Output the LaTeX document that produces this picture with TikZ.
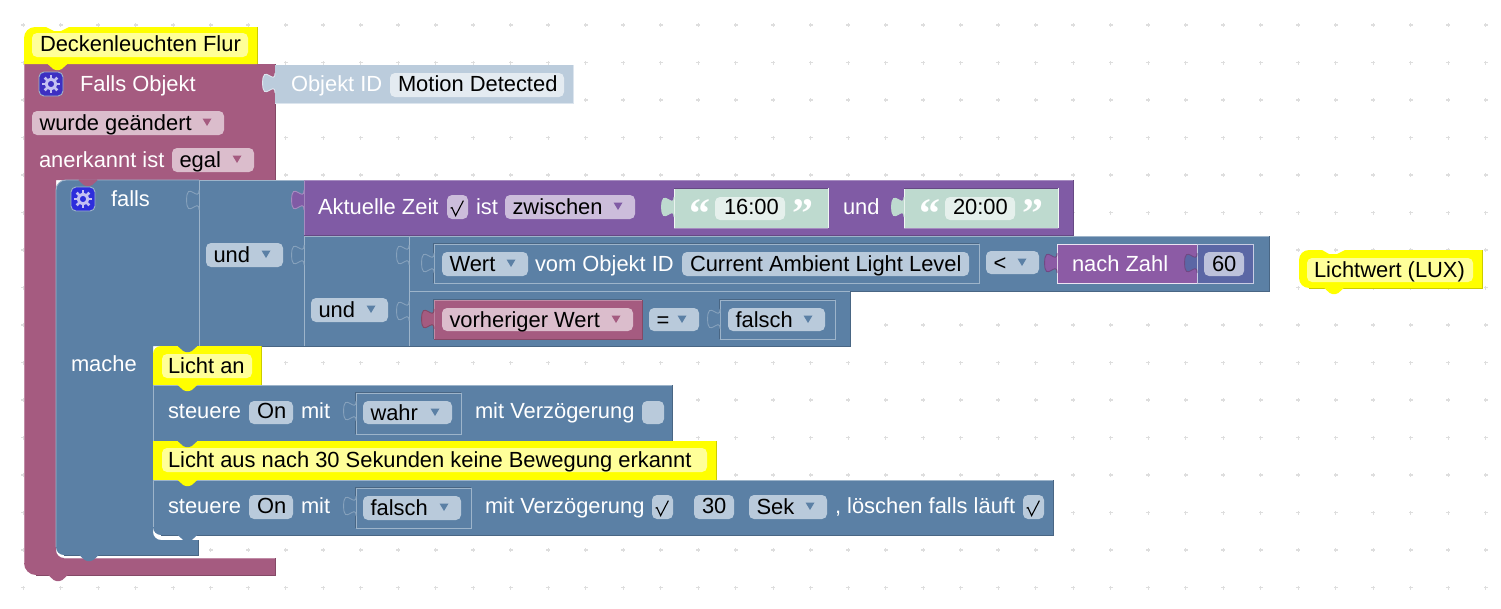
\documentclass[tikz,border=0pt]{standalone}
\usepackage{fontspec}
\setmainfont{Liberation Sans}
\newfontfamily\quotefont{Liberation Serif}[BoldFont={Liberation Serif Bold}]
\definecolor{pk}{HTML}{A55B80}\definecolor{pkl}{HTML}{C08CA6}\definecolor{pkd}{HTML}{844966}\definecolor{pkf}{HTML}{DBBDCC}
\definecolor{bl}{HTML}{5B80A5}\definecolor{bll}{HTML}{9DB4CA}\definecolor{blt}{HTML}{86A1BC}\definecolor{bld}{HTML}{496684}\definecolor{blf}{HTML}{B9CADB}
\definecolor{pu}{HTML}{805BA5}\definecolor{pul}{HTML}{A68CC0}\definecolor{pud}{HTML}{664984}\definecolor{puf}{HTML}{CCBDDB}
\definecolor{nz}{HTML}{8C5BA5}\definecolor{nzl}{HTML}{EDE4F2}\definecolor{nzd}{HTML}{704984}
\definecolor{idb}{HTML}{BBCCDC}\definecolor{idf}{HTML}{E4EBF1}\definecolor{idl}{HTML}{DCE5EE}
\definecolor{gr}{HTML}{BEDACF}\definecolor{grf}{HTML}{E5F0EC}\definecolor{grl}{HTML}{F0F7F4}
\definecolor{nm}{HTML}{5B67A5}\definecolor{nmf}{HTML}{BDC2DB}\definecolor{nml}{HTML}{C9CDE3}
\definecolor{ye}{HTML}{FFFF00}\definecolor{yed}{HTML}{CCCC00}\definecolor{yef}{HTML}{FFFF99}
\definecolor{grd}{HTML}{DEDEDE}\definecolor{giconA}{HTML}{3D2FC2}\definecolor{giconB}{HTML}{2D2DDC}\definecolor{gearc}{HTML}{C4C0F2}
\newcount\nn
\tikzset{
 tx/.style={anchor=base west,inner sep=0pt,outer sep=0pt,font=\fontsize{21.9}{24}\selectfont},
 wt/.style={tx,text=white},
 bk/.style={tx,text=black},
 edge/.style={line width=.9pt}
}
\newcommand{\lab}[5][wt]{\global\advance\nn by 1 \node[#1] (t\the\nn) at (#2,#3) {#4#5};}
\newcommand{\blk}[7]{\fill[#5] (#1,#2) rectangle (#3,#4);
 \draw[edge,#6] (#1,#4)--(#1,#2)--(#3,#2);
 \draw[edge,#7] (#3,#2)--(#3,#4)--(#1,#4);}
\newcommand{\frm}[4]{\fill[bl] (#1,#2) rectangle (#3,#4);
 \draw[edge,bll] (#1,#2) rectangle (#3,#4);
 \draw[edge,bld] (#1-.9,#4)--(#1-.9,#2-.9)--(#3,#2-.9);}
\newcommand{\tabl}[4]{\begin{scope}[shift={(#1,#2)}]
 \fill[#3] (0,0) .. controls (0,13.3) and (-12.4,-10.6) .. (-12.4,10) .. controls (-12.4,30.6) and (0,6.6) .. (0,20) -- cycle;
 \draw[edge,#4] (0,0) .. controls (0,13.3) and (-12.4,-10.6) .. (-12.4,10) .. controls (-12.4,30.6) and (0,6.6) .. (0,20);
 \end{scope}}
\newcommand{\ntab}[3]{\begin{scope}[shift={(#1,#2)}]
 \fill[#3,rounded corners=1.5pt] (-10.5,-.6) -- (-3.2,6) -- (3.2,6) -- (10.5,-.6) -- cycle;
 \end{scope}}
\newcommand{\fld}[5]{\fill[#5,rounded corners=5pt] (#1,#2) rectangle (#3,#4);}
\newcommand{\ddn}[3]{\fill[#3] ({#1-4.5},{#2+7.5}) -- ({#1+4.5},{#2+7.5}) -- (#1,{#2+15}) -- cycle;}
\newcommand{\dd}[7]{\fld{#1}{#2}{#3}{#4}{#5}\ddn{#3-17}{#2}{#6}\lab[bk]{#1+7.5}{#2+19.2}{}{#7}}
\newcommand{\tf}[5]{\fld{#1}{#2}{#3}{#4}{#5}}
\newcommand{\gearicon}[3]{\draw[line width=.9pt,fill=#3,rounded corners=5pt,draw=bll] (#1,#2) rectangle ({#1+24},{#2+24});
 \begin{scope}[shift={(#1+12,#2+12)}]
 \draw[gearc,line width=3pt] (0,0) circle (4.8pt);
 \foreach \a in {0,45,...,315} {\draw[gearc,line width=2.6pt] (\a:6) -- (\a:9);}
 \end{scope}}
\newcommand{\chk}[2]{\draw[black,line width=1.1pt,line join=miter] ({#1+3.6},{#2+13.2}) -- ({#1+5},{#2+12.6}) -- ({#1+8.6},{#2+20.6}) -- ({#1+16.4},{#2+5.6});}
\newcommand{\qq}[3]{\lab[tx,text=white,font=\quotefont\bfseries\fontsize{42}{42}\selectfont]{#1}{#2}{}{#3}}
\begin{document}
\begin{tikzpicture}[x=1pt,y=-1pt]
\useasboundingbox (0,0) rectangle (1501,608);
\fill[white] (0,0) rectangle (1501,608);
% grid dots
\foreach \i in {0,...,39}{\foreach \j in {0,...,15}{
 \pgfmathsetmacro{\gx}{23.3+37.5*\i}\pgfmathsetmacro{\gy}{25+37.5*\j}
 \fill[grd] (\gx-2,\gy-.6) rectangle (\gx+2,\gy+.6);
 \fill[grd] (\gx-.6,\gy-2) rectangle (\gx+.6,\gy+2);
}}
% outer pink block
\fill[pk] (24,64) -- (275,64) -- (275,180) -- (56,180) -- (56,550) arc[start angle=180,end angle=90,radius=8] -- (64,558) -- (275,558) -- (275,575) -- (36,575) arc[start angle=90,end angle=180,radius=12] -- cycle;
\draw[edge,pkd] (275,64)--(275,180);
\draw[edge,pkl] (64,558)--(275,558);
\draw[edge,pkd] (275,558)--(275,575)--(36,575);
\draw[edge,pkl] (24,563)--(24,64);
\ntab{58}{575}{pk}
% hat
\fill[ye] (24,64) -- (24,38) arc[start angle=180,end angle=270,radius=11] -- (46,27) -- (54,31) -- (61,31) -- (69,27) -- (257,27) -- (257,64) -- cycle;
\draw[edge,yed] (257,27)--(257,64);
\ntab{57.5}{64}{ye}
\tf{32}{33}{248}{57}{yef}
\lab[bk]{40}{51.7}{}{Deckenleuchten Flur}
% object id
\fill[idb] (275,65) rectangle (573,103);
\draw[edge,idl] (275,103)--(573,103)--(573,65);
\tabl{275}{73}{idb}{idl}
\lab{291}{91}{}{Objekt ID}
\tf{390}{73}{564}{97}{idf}
\lab[bk]{398}{91}{}{Motion Detected}
% pink contents
\gearicon{39}{72}{giconA}
\lab{80}{91}{}{Falls Objekt}
\dd{32}{111}{224}{135}{pkf}{pk}{wurde geändert}
\lab{39}{167}{}{anerkannt ist}
\dd{172}{148}{254}{172}{pkf}{pk}{egal}
% falls block
\fill[bl] (66,180) -- (199,180) -- (199,346) -- (153,346) -- (153,532) arc[start angle=180,end angle=90,radius=8] -- (161,540) -- (198,540) -- (198,555) -- (64,555) arc[start angle=90,end angle=180,radius=8] -- (56,190) arc[start angle=180,end angle=270,radius=10] -- cycle;
\draw[edge,bll] (56,547) -- (56,190) arc[start angle=180,end angle=270,radius=10] -- (199,180);
\draw[edge,bld] (198,540)--(198,555)--(64,555);
\ntab{89}{555}{bl}
\ntab{88}{180}{pk}
\gearicon{71}{187}{giconB}
\lab{111}{206}{}{falls}
\lab{71}{371}{}{mache}
% und 1
\fill[bl] (199,180) rectangle (304,346);
\draw[edge,bll] (199,346)--(199,180)--(304,180);
\draw[edge,bld] (199,346)--(304,346);
\tabl{199}{190}{bl}{blt}
\dd{206}{243}{283}{267}{blf}{bl}{und}
% aktuelle zeit
\blk{304}{180}{1073}{235}{pu}{pul}{pud}
\tabl{304}{190}{pu}{pul}
\lab{318}{214}{}{Aktuelle Zeit}
\tf{447}{195}{468}{219}{puf}
\chk{447}{195}
\lab{476}{214}{}{ist}
\dd{505}{195}{635}{219}{puf}{pu}{zwischen}
\fill[gr] (674,188) rectangle (828,228);
\draw[edge,grl] (674,228)--(674,188);\draw[edge,pud] (674,188)--(828,188);\draw[edge,pul] (674,228)--(828,228);\draw[edge,grl] (828,188)--(828,228);
\tabl{674}{197}{gr}{gr}
\qq{689.5}{227}{“}
\tf{715}{197}{785}{220}{grf}
\lab[bk]{724}{214}{}{16:00}
\qq{792.5}{227}{”}
\lab{843}{214}{}{und}
\fill[gr] (904,188) rectangle (1058,228);
\draw[edge,grl] (904,228)--(904,188);\draw[edge,pud] (904,188)--(1058,188);\draw[edge,pul] (904,228)--(1058,228);\draw[edge,grl] (1058,188)--(1058,228);
\tabl{904}{197}{gr}{gr}
\qq{919.5}{227}{“}
\tf{945}{197}{1015}{220}{grf}
\lab[bk]{953}{214}{}{20:00}
\qq{1022.5}{227}{”}
% und 2
\fill[bl] (304,236) rectangle (409,346);
\draw[edge,bll] (304,346)--(304,236)--(409,236);
\draw[edge,bld] (304,346)--(409,346);
\tabl{304}{245}{bl}{blt}
\dd{311}{298}{388}{322}{blf}{bl}{und}
% compare 1
\blk{409}{236}{1269}{291}{bl}{bll}{bld}
\tabl{409}{245}{bl}{blt}
\frm{434}{244}{979}{283}
\tabl{434}{253}{bl}{blt}
\dd{442}{252}{528}{276}{blf}{bl}{Wert}
\lab{535}{271.5}{}{vom Objekt ID}
\tf{682}{252}{969}{276}{blf}
\lab[bk]{690}{271.5}{}{Current Ambient Light Level}
\dd{986}{251}{1039}{274}{blf}{bl}{<}
\blk{1057}{244}{1197}{283}{nz}{nzl}{nzl}
\tabl{1057}{253}{nz}{nzd}
\lab{1072}{271}{}{nach Zahl}
\blk{1197}{244}{1253}{283}{nm}{nml}{nml}
\tabl{1197}{253}{nm}{nzd}
\tf{1204}{252}{1244}{276}{nmf}
\lab[bk]{1212}{271.5}{}{60}
% compare 2
\blk{409}{291}{850}{346}{bl}{bll}{bld}
\tabl{409}{301}{bl}{blt}
\blk{434}{300}{642}{339}{pk}{pkl}{pkd}
\draw[edge,bld] (433,339)--(433,299)--(642,299);
\tabl{434}{309}{pk}{pkd}
\dd{442}{308}{633}{331}{pkf}{pk}{vorheriger Wert}
\dd{649}{308}{699}{331}{blf}{bl}{=}
\frm{720}{300}{835}{339}
\tabl{720}{309}{bl}{blt}
\dd{728}{308}{825}{331}{blf}{bl}{falsch}
% Lichtwert
\fill[ye] (1299,260) arc[start angle=180,end angle=270,radius=10] -- (1322,250) -- (1329,254) -- (1337,254) -- (1345,250) -- (1482,250) -- (1482,288) -- (1309,288) arc[start angle=90,end angle=180,radius=10] -- cycle;
\draw[edge,yed] (1482,250)--(1482,288)--(1309,288);
\ntab{1334}{288}{ye}
\tf{1307}{258}{1473}{282}{yef}
\lab[bk]{1314}{277}{}{Lichtwert (LUX)}
% statement stack
\fill[ye] (153,385) -- (153,354) arc[start angle=180,end angle=270,radius=8] -- (261,346) -- (261,385) -- cycle;
\draw[edge,yed] (261,346)--(261,385);
\ntab{187.5}{346}{bl}
\tf{162}{354}{252}{378}{yef}
\lab[bk]{168}{373}{}{Licht an}
\blk{153}{385}{672}{441}{bl}{bll}{bld}
\ntab{187.5}{385}{ye}
\lab{168}{418.5}{}{steuere}
\tf{249}{401}{293}{424}{blf}
\lab[bk]{257}{418.5}{}{On}
\lab{301}{418.5}{}{mit}
\frm{356}{393}{461}{434}
\tabl{356}{401}{bl}{blt}
\dd{363}{401}{452}{424}{blf}{bl}{wahr}
\lab{475}{418.5}{}{mit Verzögerung}
\tf{642}{401}{664}{424}{blf}
\fill[ye] (153,441) rectangle (716,480);
\draw[edge,yed] (716,441)--(716,480);
\ntab{187.5}{441}{bl}
\tf{162}{448}{707}{472}{yef}
\lab[bk]{168}{467.5}{}{Licht aus nach 30 Sekunden keine Bewegung erkannt}
\fill[bl] (153,480) -- (1053,480) -- (1053,535) -- (161,535) arc[start angle=90,end angle=180,radius=8] -- cycle;
\draw[edge,bll] (153,527)--(153,480)--(1053,480);
\draw[edge,bld] (1053,480)--(1053,535)--(161,535);
\ntab{187.5}{480}{ye}
\ntab{187.5}{535}{bl}
\lab{168}{513.5}{}{steuere}
\tf{249}{495}{293}{519}{blf}
\lab[bk]{257}{513.5}{}{On}
\lab{301}{513.5}{}{mit}
\frm{356}{488}{471}{528}
\tabl{356}{496}{bl}{blt}
\dd{363}{496}{461}{520}{blf}{bl}{falsch}
\lab{485}{513.5}{}{mit Verzögerung}
\tf{652}{495}{673}{519}{blf}
\chk{652}{495}
\tf{694}{495}{734}{519}{blf}
\lab[bk]{702}{513.5}{}{30}
\dd{749}{495}{827}{519}{blf}{bl}{Sek}
\lab{835}{513.5}{}{, löschen falls läuft}
\tf{1023}{495}{1044}{519}{blf}
\chk{1023}{495}
\end{tikzpicture}
\end{document}
